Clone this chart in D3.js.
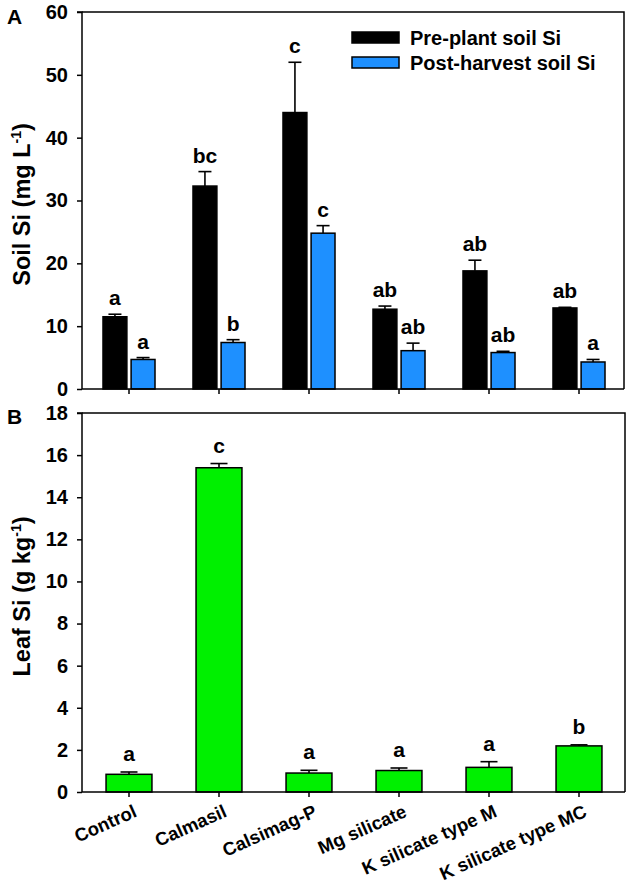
<!DOCTYPE html>
<html>
<head>
<meta charset="utf-8">
<script src="https://cdn.jsdelivr.net/npm/d3@7"></script>
<style>
  html, body { margin: 0; padding: 0; background: #fff; }
  svg { display: block; font-family: Arial, "Liberation Sans", sans-serif; font-weight: bold; }
</style>
</head>
<body>
<svg id="chart" width="630" height="892"></svg>
<script>
const categories = ["Control", "Calmasil", "Calsimag-P", "Mg silicate", "K silicate type M", "K silicate type MC"];
const series = ["Pre-plant soil Si", "Post-harvest soil Si"];
const seriesColors = ["#000000", "#1e90ff"];
const prePlant = [11.5, 32.3, 44.0, 12.7, 18.8, 12.9];
const prePlantErr = [0.4, 2.3, 8.0, 0.5, 1.7, 0.1];
const postHarvest = [4.7, 7.4, 24.8, 6.1, 5.8, 4.3];
const postHarvestErr = [0.3, 0.45, 1.2, 1.2, 0.2, 0.4];
const preLetters = ["a", "bc", "c", "ab", "ab", "ab"];
const postLetters = ["a", "b", "c", "ab", "ab", "a"];
const leafSi = [0.84, 15.4, 0.9, 1.02, 1.17, 2.19];
const leafSiErr = [0.11, 0.2, 0.13, 0.12, 0.27, 0.05];
const leafLetters = ["a", "c", "a", "a", "a", "b"];
const soilTicks = [0, 10, 20, 30, 40, 50, 60];
const leafTicks = [0, 2, 4, 6, 8, 10, 12, 14, 16, 18];
const leafColor = "#00f000";

const FONT = "Arial, 'Liberation Sans', sans-serif";
const svg = d3.select("#chart");
const xLeft = 82, xRight = 624;

// Panel A scales
const yA = d3.scaleLinear().domain([0, 60]).range([389, 12]);
const xA = d3.scaleBand().domain(categories).range([84, 624]).paddingInner(0.422).paddingOuter(0.211);
const xSub = d3.scaleBand().domain(series).range([0, xA.bandwidth()]).paddingInner(0.15);

// Panel B scales
const yB = d3.scaleLinear().domain([0, 18]).range([792, 413]);
const xB = d3.scaleBand().domain(categories).range([84, 624]).paddingInner(0.49).paddingOuter(0.245);

function frame(y, x0, x1) {
  const [b, t] = y.range();
  svg.append("path")
    .attr("d", `M${x0},${t}H${x1}V${b}`)
    .attr("fill", "none").attr("stroke", "#000").attr("stroke-width", 1.5);
}

function axes(y, x, ticks, showLabels, xEnd) {
  const [b, t] = y.range();
  const gy = svg.append("g").attr("transform", `translate(${xLeft},0)`)
    .call(d3.axisLeft(y).tickValues(ticks).tickSize(5).tickPadding(9).tickFormat(d3.format("d")));
  gy.selectAll("text").attr("font-size", 20).attr("font-weight", "bold").attr("fill", "#000")
    .attr("font-family", FONT);
  gy.select(".domain").attr("stroke-width", 1.5).attr("d", `M-5,${t}H0V${b}`);
  gy.selectAll(".tick line").attr("stroke-width", 1.5);

  const gx = svg.append("g").attr("transform", `translate(0,${b})`)
    .call(d3.axisBottom(x).tickSize(5).tickSizeOuter(0));
  gx.select(".domain").attr("stroke-width", 1.5).attr("d", `M${xLeft},0H${xEnd}`);
  gx.selectAll(".tick line").attr("stroke-width", 1.5);
  if (showLabels) {
    gx.selectAll("text")
      .attr("font-size", 18.5).attr("font-weight", "bold").attr("fill", "#000")
      .attr("font-family", FONT)
      .attr("text-anchor", "end")
      .attr("dy", null).attr("y", 0)
      .attr("transform", "translate(9,24) rotate(-24)");
  } else {
    gx.selectAll("text").remove();
  }
}

// ---------- Panel A ----------
frame(yA, xLeft, xRight);

const groupsA = svg.append("g");
categories.forEach((c, i) => {
  const vals = [prePlant[i], postHarvest[i]];
  const errs = [prePlantErr[i], postHarvestErr[i]];
  const lets = [preLetters[i], postLetters[i]];
  series.forEach((s, j) => {
    const x0 = xA(c) + xSub(s);
    const w = xSub.bandwidth();
    const cx = x0 + w / 2;
    const top = yA(vals[j] + errs[j]);
    groupsA.append("line")
      .attr("x1", cx).attr("x2", cx).attr("y1", yA(vals[j])).attr("y2", top)
      .attr("stroke", "#000").attr("stroke-width", 1.6);
    groupsA.append("line")
      .attr("x1", cx - 6.5).attr("x2", cx + 6.5).attr("y1", top).attr("y2", top)
      .attr("stroke", "#000").attr("stroke-width", 1.6);
    groupsA.append("rect")
      .attr("x", x0).attr("y", yA(vals[j])).attr("width", w).attr("height", yA(0) - yA(vals[j]))
      .attr("fill", seriesColors[j]).attr("stroke", "#000").attr("stroke-width", 1.5);
    groupsA.append("text")
      .attr("x", cx).attr("y", top - 9).attr("text-anchor", "middle")
      .attr("font-size", 21).text(lets[j]);
  });
});

axes(yA, xA, soilTicks, false, xRight);

// Legend
const legend = svg.append("g");
series.forEach((s, j) => {
  legend.append("rect").attr("x", 352).attr("y", 32 + j * 25).attr("width", 47).attr("height", 11)
    .attr("fill", seriesColors[j]).attr("stroke", "#000").attr("stroke-width", 1.5);
  legend.append("text").attr("x", 410).attr("y", 45 + j * 24.5).attr("font-size", 20).text(s);
});

// Y title A
const tA = svg.append("text")
  .attr("transform", `translate(30,${(yA.range()[0] + yA.range()[1]) / 2 + 4}) rotate(-90)`)
  .attr("text-anchor", "middle").attr("font-size", 23.5);
tA.append("tspan").text("Soil Si (mg L");
tA.append("tspan").attr("font-size", 14).attr("dy", -9).text("-1");
tA.append("tspan").attr("dy", 9).text(")");

svg.append("text").attr("x", 7).attr("y", 24).attr("font-size", 21).text("A");

// ---------- Panel B ----------
frame(yB, xLeft, xRight + 1);

const groupsB = svg.append("g");
categories.forEach((c, i) => {
  const x0 = xB(c);
  const w = xB.bandwidth();
  const cx = x0 + w / 2;
  const top = yB(leafSi[i] + leafSiErr[i]);
  groupsB.append("line")
    .attr("x1", cx).attr("x2", cx).attr("y1", yB(leafSi[i])).attr("y2", top)
    .attr("stroke", "#000").attr("stroke-width", 1.6);
  groupsB.append("line")
    .attr("x1", cx - 8.5).attr("x2", cx + 8.5).attr("y1", top).attr("y2", top)
    .attr("stroke", "#000").attr("stroke-width", 1.6);
  groupsB.append("rect")
    .attr("x", x0).attr("y", yB(leafSi[i])).attr("width", w).attr("height", yB(0) - yB(leafSi[i]))
    .attr("fill", leafColor).attr("stroke", "#000").attr("stroke-width", 1.5);
  groupsB.append("text")
    .attr("x", cx).attr("y", top - 11).attr("text-anchor", "middle")
    .attr("font-size", 21).text(leafLetters[i]);
});

axes(yB, xB, leafTicks, true, xRight + 1);

const tB = svg.append("text")
  .attr("transform", `translate(30,${(yB.range()[0] + yB.range()[1]) / 2 - 6}) rotate(-90)`)
  .attr("text-anchor", "middle").attr("font-size", 23.5);
tB.append("tspan").text("Leaf Si (g kg");
tB.append("tspan").attr("font-size", 14).attr("dy", -9).text("-1");
tB.append("tspan").attr("dy", 9).text(")");

svg.append("text").attr("x", 7).attr("y", 424).attr("font-size", 21).text("B");
</script>
</body>
</html>
